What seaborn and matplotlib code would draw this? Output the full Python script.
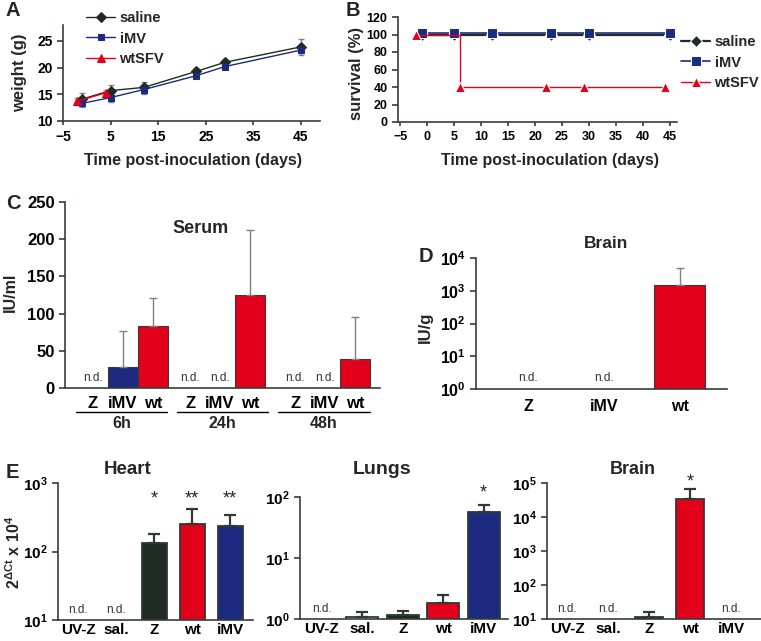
import numpy as np
import pandas as pd
import matplotlib
matplotlib.use("Agg")
import matplotlib.pyplot as plt
import seaborn as sns
from matplotlib.ticker import FixedLocator, NullLocator, FuncFormatter

# ---- data ----
# A: body weight
weight_days = [-1, 5, 12, 23, 29, 45]
weight_saline = [14.1, 15.7, 16.3, 19.3, 21.0, 23.9]
weight_saline_sd = [1.1, 1.1, 1.0, 0.6, 0.7, 1.5]
weight_imv = [13.3, 14.4, 15.9, 18.5, 20.2, 23.3]
weight_imv_sd = [0.6, 0.8, 0.9, 0.5, 0.5, 0.6]
weight_days_wt = [-2, 4]
weight_wt = [13.7, 15.3]
weight_wt_sd = [0.7, 0.5]

# B: survival
survival_days = [-1, 5, 12, 23, 30, 45]
survival_saline = [100, 100, 100, 100, 100, 100]
survival_imv = [102, 102, 102, 102, 102, 102]
survival_days_wt = [-2, 6, 22, 29, 44]
survival_wt = [100, 40, 40, 40, 40]

# C: serum titres
serum_times = ["6h", "24h", "48h"]
serum_groups = ["Z", "iMV", "wt"]
serum_mean = [[np.nan, 28, 83], [np.nan, np.nan, 125], [np.nan, np.nan, 39]]
serum_top = [[np.nan, 77, 121], [np.nan, np.nan, 213], [np.nan, np.nan, 96]]

# D: brain titres
brain_groups = ["Z", "iMV", "wt"]
brain_titre = [np.nan, np.nan, 1480]
brain_titre_top = [np.nan, np.nan, 5000]

# E: qPCR per organ
organ_groups = ["UV-Z", "sal.", "Z", "wt", "iMV"]
heart_val = [np.nan, np.nan, 131, 256, 233]
heart_top = [np.nan, np.nan, 183, 423, 346]
heart_stars = ["", "", "*", "**", "**"]
lungs_val = [np.nan, 1.09, 1.16, 1.85, 57]
lungs_top = [np.nan, 1.32, 1.37, 2.47, 74]
lungs_stars = ["", "", "", "", "*"]
brainE_val = [np.nan, np.nan, 11.4, 34000, np.nan]
brainE_top = [np.nan, np.nan, 15.8, 66000, np.nan]
brainE_stars = ["", "", "", "*", ""]

# ---- style ----
DARK = "#1f2b24"
BLUE = "#1c2a80"
RED = "#e2001a"
AXIS = "#34403a"
GREY = "#808080"

sns.set_style("ticks")
plt.rcParams["font.family"] = ["Liberation Sans", "DejaVu Sans"]
plt.rcParams.update({
    "font.weight": "bold",
    "mathtext.fontset": "custom",
    "mathtext.rm": "Liberation Sans",
    "mathtext.bf": "Liberation Sans:bold",
    "mathtext.it": "Liberation Sans:italic",
})

W, H = 761, 641
fig = plt.figure(figsize=(W / 100, H / 100), dpi=100)


def box(l, t, r, b):
    return fig.add_axes([l / W, 1 - b / H, (r - l) / W, (b - t) / H])


def fpos(x, y):
    return x / W, 1 - y / H


def ftext(x, y, s, size, **kw):
    fig.text(x / W, 1 - y / H, s, ha="center", va="center", fontsize=size,
             fontweight="bold", **kw)


def style(ax, size, xlen=4):
    sns.despine(ax=ax)
    for s in ("left", "bottom"):
        ax.spines[s].set_color(AXIS)
        ax.spines[s].set_linewidth(1.2)
    ax.tick_params(colors=AXIS, labelcolor="black", labelsize=size, width=1.2, length=4)
    ax.tick_params(axis="x", length=xlen)
    for t in ax.get_xticklabels() + ax.get_yticklabels():
        t.set_fontweight("bold")


def pow10(v, _):
    return r"$\mathbf{10^{%d}}$" % round(np.log10(v))


def log_axis(ax, lo, hi):
    ax.set_yscale("log")
    ax.set_ylim(10 ** lo, 10 ** hi)
    ax.yaxis.set_major_locator(FixedLocator(10.0 ** np.arange(lo, hi + 1)))
    ax.yaxis.set_minor_locator(NullLocator())
    ax.yaxis.set_major_formatter(FuncFormatter(pow10))


def nd_label(ax, x, lift=10):
    ax.annotate("n.d.", xy=(x, 0), xycoords=ax.get_xaxis_transform(),
                xytext=(0, lift), textcoords="offset pixels", ha="center",
                va="center", fontsize=8.5, fontweight="normal", color="#333333")


# ---- A: weight ----
axA = box(63, 25, 320, 121)
series_A = [
    (weight_days, weight_saline, weight_saline_sd, DARK, "D", 5.5, "saline"),
    (weight_days, weight_imv, weight_imv_sd, BLUE, "s", 5, "iMV"),
    (weight_days_wt, weight_wt, weight_wt_sd, RED, "^", 6, "wtSFV"),
]
for days, mean, sd, col, mk, ms, lab in series_A:
    axA.errorbar(days, mean, yerr=sd, fmt="none", ecolor=col, elinewidth=1,
                 capsize=2.5, alpha=0.55, zorder=1)
    sns.lineplot(x=days, y=mean, color=col, marker=mk, markersize=ms,
                 markeredgecolor=col, linewidth=1, sort=False, label=lab, ax=axA)
axA.set_xlim(-5, 49)
axA.set_ylim(10, 28)
axA.set_xticks([-5, 5, 15, 25, 35, 45])
axA.set_yticks([10, 15, 20, 25])
axA.set_xlabel("")
axA.set_ylabel("")
style(axA, 10, xlen=3)
hA, lA = axA.get_legend_handles_labels()
axA.legend(hA, lA, loc="upper left", bbox_to_anchor=fpos(86, 11),
           bbox_transform=fig.transFigure, frameon=False, handlelength=2,
           handletextpad=0.3, labelspacing=0.45, borderpad=0, borderaxespad=0,
           prop={"weight": "bold", "size": 10.5})

# ---- B: survival ----
axB = box(398, 17, 677, 122)
sns.lineplot(x=survival_days, y=survival_saline, color=DARK, marker="D",
             markersize=6, linewidth=1.6, sort=False, label="saline", ax=axB)
sns.lineplot(x=survival_days, y=survival_imv, color=BLUE, marker="s",
             markersize=7, linewidth=1.2, sort=False, label="iMV", ax=axB)
sns.lineplot(x=survival_days_wt, y=survival_wt, color=RED, marker="^",
             markersize=7.5, linewidth=1, sort=False, drawstyle="steps-post",
             label="wtSFV", ax=axB)
axB.set_xlim(-5.4, 46.3)
axB.set_ylim(0, 120)
axB.set_xticks(range(-5, 50, 5))
axB.set_yticks(range(0, 121, 20))
axB.set_xlabel("")
axB.set_ylabel("")
style(axB, 9, xlen=3)
hB, lB = axB.get_legend_handles_labels()
axB.legend(hB, lB, loc="upper left", bbox_to_anchor=fpos(681, 35),
           bbox_transform=fig.transFigure, frameon=False, handlelength=2,
           handletextpad=0.3, labelspacing=0.45, borderpad=0, borderaxespad=0,
           prop={"weight": "bold", "size": 10.5})

# ---- C: serum ----
axC = box(65, 202, 380, 388)
c_group_start = [0.93, 4.17, 7.67]
c_line_mid = [1.88, 5.25, 8.63]
rows = []
for g, tp in enumerate(serum_times):
    for i, grp in enumerate(serum_groups):
        rows.append({"pos": c_group_start[g] + i, "group": grp, "time": tp,
                     "value": serum_mean[g][i], "top": serum_top[g][i]})
serum_df = pd.DataFrame(rows)
sns.barplot(data=serum_df, x="pos", y="value", hue="group", hue_order=serum_groups,
            palette={"Z": DARK, "iMV": BLUE, "wt": RED}, dodge=False, saturation=1,
            native_scale=True, width=1.0, edgecolor="#3a3a3a", linewidth=0.8,
            legend=False, ax=axC)
for _, r in serum_df.iterrows():
    if np.isnan(r["value"]):
        nd_label(axC, r["pos"], lift=10)
    else:
        axC.errorbar(r["pos"], r["value"], yerr=[[0], [r["top"] - r["value"]]],
                     fmt="none", ecolor=GREY, elinewidth=1, capsize=3, zorder=3)
axC.set_xlim(0, 10.5)
axC.set_ylim(0, 250)
axC.set_yticks(range(0, 251, 50))
axC.set_xticks(serum_df["pos"], serum_df["group"])
axC.set_xlabel("")
axC.set_ylabel("")
style(axC, 12, xlen=0)
axC.tick_params(axis="x", pad=6)
tr = axC.get_xaxis_transform()
for g, tp in enumerate(serum_times):
    mid = c_line_mid[g]
    axC.plot([mid - 1.52, mid + 1.52], [-0.129, -0.129], color="black", lw=1,
             transform=tr, clip_on=False)
    axC.text(mid, -0.19, tp, transform=tr, ha="center", va="center",
             fontsize=11.5, fontweight="bold")
axC.text(0.43, 0.855, "Serum", transform=axC.transAxes, ha="center",
         va="center", fontsize=13, fontweight="bold")

# ---- D: brain titre ----
axD = box(476, 258, 727, 389)
brain_df = pd.DataFrame({"group": brain_groups, "value": brain_titre})
sns.barplot(data=brain_df, x="group", y="value", hue="group", order=brain_groups,
            hue_order=brain_groups, palette={"Z": DARK, "iMV": BLUE, "wt": RED},
            saturation=1, width=0.67, edgecolor="#3a3a3a", linewidth=0.8,
            legend=False, ax=axD)
log_axis(axD, 0, 4)
for i, (v, t) in enumerate(zip(brain_titre, brain_titre_top)):
    if np.isnan(v):
        nd_label(axD, i, lift=11)
    else:
        axD.errorbar(i, v, yerr=[[0], [t - v]], fmt="none", ecolor=GREY,
                     elinewidth=1, capsize=3, zorder=3)
axD.set_xlim(-0.684, 2.62)
axD.set_xlabel("")
axD.set_ylabel("")
style(axD, 11.5, xlen=0)
axD.tick_params(axis="x", pad=7)

# ---- E: qPCR ----
organ_palette = {"UV-Z": "white", "sal.": "white", "Z": DARK, "wt": RED, "iMV": BLUE}
organ_panels = [
    # values, tops, stars, (l, t, r, b), decades, xlim, width, star y (axes frac)
    (heart_val, heart_top, heart_stars, (58, 483, 253, 620), (1, 3), (-0.53, 4.6), 0.66, 0.88),
    (lungs_val, lungs_top, lungs_stars, (300, 497, 508, 619), (0, 2), (-0.54, 4.6), 0.79, 1.03),
    (brainE_val, brainE_top, brainE_stars, (547, 483, 761, 619), (1, 5), (-0.49, 4.73), 0.70, 1.01),
]
for vals, tops, stars, rect, (lo, hi), xl, wd, sy in organ_panels:
    ax = box(*rect)
    df = pd.DataFrame({"group": organ_groups, "value": vals})
    sns.barplot(data=df, x="group", y="value", hue="group", order=organ_groups,
                hue_order=organ_groups, palette=organ_palette, saturation=1,
                width=wd, edgecolor="#2e3a33", linewidth=1.3, legend=False, ax=ax)
    log_axis(ax, lo, hi)
    for i, (v, t, s) in enumerate(zip(vals, tops, stars)):
        if np.isnan(v):
            nd_label(ax, i, lift=10)
        else:
            ax.errorbar(i, v, yerr=[[0], [t - v]], fmt="none", ecolor="#2e3a33",
                        elinewidth=1.6, capsize=4, capthick=1.6, zorder=3)
        if s:
            ax.annotate(s, xy=(i, sy), xycoords=ax.get_xaxis_transform(),
                        ha="center", va="center", fontsize=13,
                        fontweight="normal", annotation_clip=False)
    ax.set_xlim(*xl)
    ax.set_xlabel("")
    ax.set_ylabel("")
    style(ax, 11, xlen=0)
    ax.tick_params(axis="x", pad=2)

# ---- labels, titles, panel letters ----
ftext(20, 73, "weight (g)", 12, rotation=90)
ftext(193, 161, "Time post-inoculation (days)", 11.5)
ftext(356, 73, "survival (%)", 12, rotation=90)
ftext(550, 161, "Time post-inoculation (days)", 11.5)
ftext(10, 292, "IU/ml", 11.5, rotation=90)
ftext(425, 327, "IU/g", 12, rotation=90)
ftext(14, 552, r"$\mathbf{2^{\Delta Ct}}$ x $\mathbf{10^{4}}$", 11.5, rotation=90)
ftext(606, 244, "Brain", 12.5)
ftext(128, 470, "Heart", 13.5)
ftext(382, 470, "Lungs", 14)
ftext(633, 470, "Brain", 13)
for x, y, s in [(13, 11, "A"), (353, 11, "B"), (13, 203, "C"), (426, 256, "D"), (12, 473, "E")]:
    ftext(x, y, s, 14.5)

fig.savefig("out.png", dpi=100)
